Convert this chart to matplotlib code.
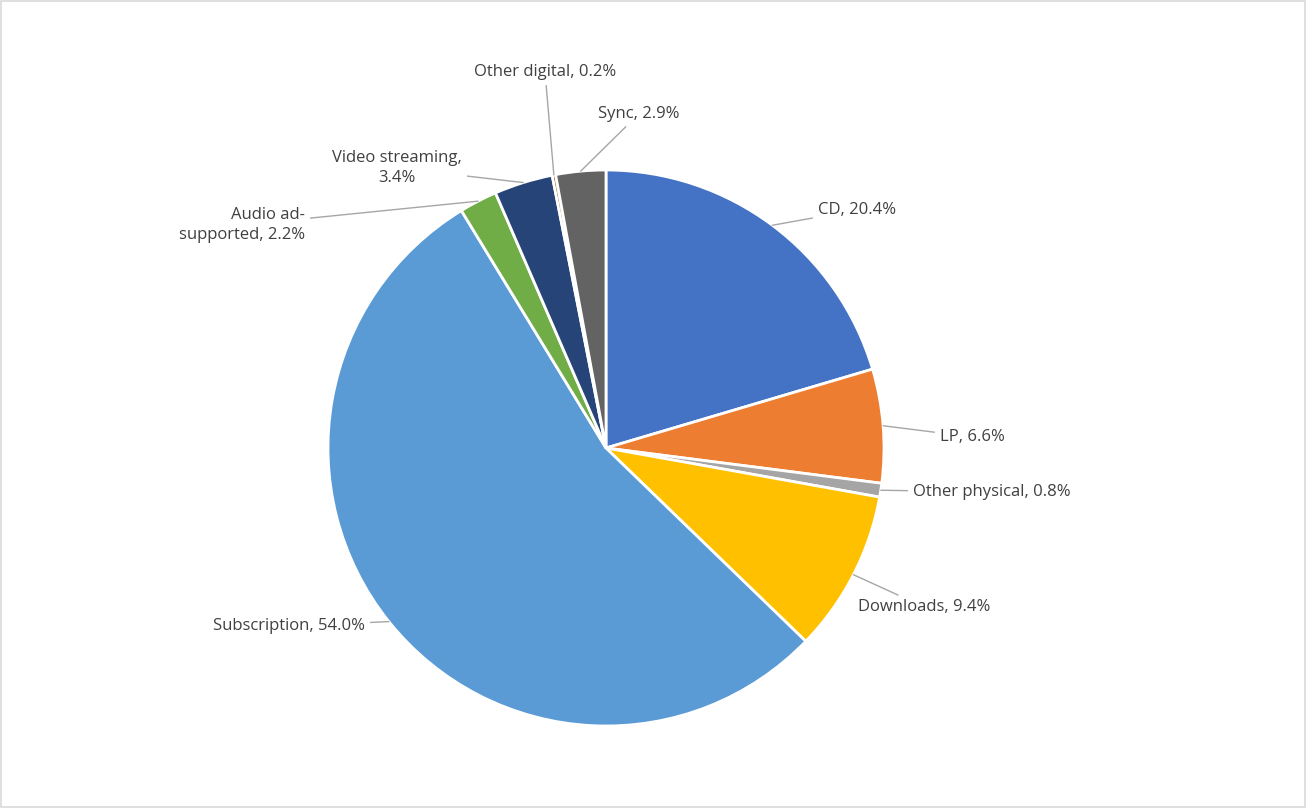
import numpy as np
import matplotlib
matplotlib.use("Agg")
import matplotlib.pyplot as plt
from matplotlib.patches import Rectangle

categories = ["CD", "LP", "Other physical", "Downloads", "Subscription",
              "Audio ad-\nsupported", "Video streaming,\n3.4%", "Other digital", "Sync"]
names = ["CD", "LP", "Other physical", "Downloads", "Subscription",
         "Audio ad-supported", "Video streaming", "Other digital", "Sync"]
values = [20.4, 6.6, 0.8, 9.4, 54.0, 2.2, 3.4, 0.2, 2.9]
colors = ["#4472C4", "#ED7D31", "#A5A5A5", "#FFC000", "#5B9BD5",
          "#70AD47", "#264478", "#9E480E", "#636363"]
labels = ["CD, 20.4%", "LP, 6.6%", "Other physical, 0.8%", "Downloads, 9.4%",
          "Subscription, 54.0%", "Audio ad-\nsupported, 2.2%", "Video streaming,\n3.4%",
          "Other digital, 0.2%", "Sync, 2.9%"]
# label anchor (pixel x, pixel y from top, ha)
label_pos = [(818, 210, "left"), (940, 437, "left"), (913, 492, "left"),
             (858, 607, "left"), (365, 626, "right"), (305, 225, "right"),
             (397, 168, "center"), (545, 72, "center"), (598, 114, "left")]

plt.rcParams['font.family'] = ['Open Sans', 'DejaVu Sans']
W, H = 1306, 808
fig = plt.figure(figsize=(W/100, H/100), dpi=100)
fig.patches.append(Rectangle((0.001, 0.001), 0.998, 0.998, transform=fig.transFigure,
                             fill=False, edgecolor="#D9D9D9", lw=1.2))
cx, cy, r = 606, 448, 278
ax = fig.add_axes([(cx-r)/W, (H-cy-r)/H, 2*r/W, 2*r/H])
wedges, _ = ax.pie(values, colors=colors, startangle=90, counterclock=False,
                   wedgeprops=dict(edgecolor="white", linewidth=2.0))
ax.set_xlim(-1, 1); ax.set_ylim(-1, 1); ax.set_aspect("equal")

for w, lab, (px, py, ha) in zip(wedges, labels, label_pos):
    ang = np.deg2rad((w.theta1 + w.theta2) / 2)
    xy = (np.cos(ang), np.sin(ang))
    ax.annotate(lab, xy=xy, xycoords="data", xytext=(px, H - py),
                textcoords="figure pixels", ha=ha, va="center", fontsize=12,
                color="#404040", linespacing=1.3,
                arrowprops=dict(arrowstyle="-", color="#A6A6A6", lw=1,
                                shrinkA=2, shrinkB=0))

fig.savefig("out.png", dpi=100)
